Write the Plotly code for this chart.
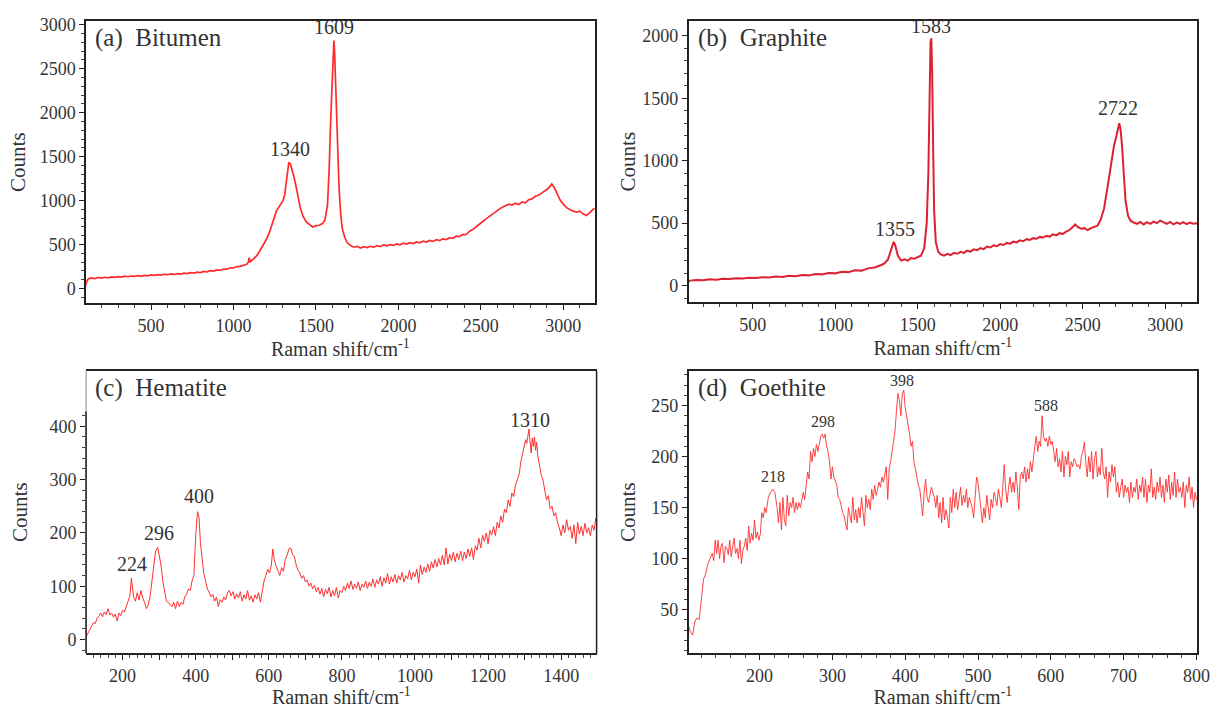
import plotly.graph_objects as go

# ---------------- data ----------------
bitumen_x = [100, 110, 120, 140, 160, 180, 200, 220, 240, 260, 280, 300, 320, 340, 360, 380, 400, 420, 440, 460,
             480, 500, 520, 540, 560, 580, 600, 620, 640, 660, 680, 700, 720, 740, 760, 780, 800, 820, 840, 860,
             880, 900, 920, 940, 960, 980, 1000, 1020, 1040, 1060, 1080, 1090, 1095, 1100, 1120, 1140, 1160, 1180,
             1200, 1220, 1240, 1260, 1280, 1300, 1310, 1320, 1330, 1335, 1345, 1355, 1365, 1375, 1390, 1405, 1420,
             1440, 1460, 1480, 1500, 1520, 1540, 1555, 1570, 1580, 1590, 1600, 1606, 1609, 1613, 1620, 1630, 1640,
             1650, 1660, 1675, 1690, 1710, 1730, 1750, 1770, 1790, 1810, 1830, 1850, 1870, 1890, 1910, 1930, 1950,
             1970, 1990, 2010, 2030, 2050, 2070, 2090, 2110, 2130, 2150, 2170, 2190, 2210, 2230, 2250, 2270, 2290,
             2310, 2330, 2350, 2370, 2390, 2410, 2430, 2450, 2470, 2490, 2510, 2530, 2550, 2570, 2590, 2610, 2630,
             2650, 2670, 2690, 2710, 2730, 2750, 2770, 2790, 2810, 2830, 2850, 2870, 2890, 2910, 2930, 2945, 2960,
             2980, 3000, 3020, 3040, 3060, 3080, 3100, 3120, 3140, 3160, 3180, 3200]
bitumen_y = [20, 80, 110, 120, 112, 125, 118, 128, 122, 132, 126, 136, 130, 140, 134, 142, 138, 147, 142, 150,
             145, 155, 149, 158, 153, 162, 157, 166, 160, 170, 165, 175, 170, 180, 176, 187, 182, 194, 190, 203,
             198, 212, 208, 222, 220, 236, 234, 250, 252, 268, 275, 300, 350, 300, 330, 370, 430, 490,
             560, 650, 760, 880, 940, 1000, 1060, 1200, 1390, 1430, 1420, 1330, 1280, 1200, 1050, 920, 830,
             760, 730, 700, 715, 720, 740, 780, 950, 1350, 1950, 2550, 2780, 2820, 2700, 2300, 1700, 1150,
             850, 680, 580, 520, 490, 470, 480, 460, 475, 465, 480, 470, 488, 478, 495, 485, 500,
             490, 508, 498, 515, 505, 522, 512, 530, 520, 538, 528, 546, 536, 555, 545, 565, 556,
             578, 570, 595, 590, 615, 612, 650, 670, 700, 725, 760, 790, 820, 850, 880, 900, 925,
             945, 960, 950, 970, 955, 985, 975, 1010, 1020, 1050, 1060, 1090, 1110, 1140, 1190, 1150, 1090,
             1010, 960, 920, 900, 880, 870, 880, 850, 830, 860, 900, 920]

graphite_x = [100, 120, 160, 200, 240, 280, 320, 360, 400, 440, 480, 520, 560, 600, 640, 680, 720, 760, 800, 840,
              880, 920, 960, 1000, 1040, 1080, 1120, 1160, 1200, 1240, 1280, 1300, 1320, 1340, 1355, 1365, 1380,
              1400, 1420, 1440, 1460, 1480, 1500, 1520, 1540, 1555, 1565, 1572, 1578, 1583, 1588, 1594, 1600, 1610,
              1625, 1640, 1660, 1680, 1700, 1720, 1740, 1760, 1780, 1800, 1820, 1840, 1860, 1880, 1900, 1920, 1940,
              1960, 1980, 2000, 2020, 2040, 2060, 2080, 2100, 2120, 2140, 2160, 2180, 2200, 2220, 2240, 2260, 2280,
              2300, 2320, 2340, 2360, 2380, 2400, 2420, 2440, 2455, 2470, 2490, 2510, 2530, 2550, 2570, 2590, 2610,
              2630, 2650, 2670, 2690, 2705, 2715, 2722, 2730, 2740, 2750, 2760, 2775, 2790, 2810, 2830, 2850, 2870,
              2890, 2910, 2930, 2950, 2970, 2990, 3010, 3030, 3050, 3070, 3090, 3110, 3130, 3150, 3170, 3190, 3200]
graphite_y = [20, 40, 45, 42, 50, 47, 55, 52, 58, 56, 63, 60, 67, 64, 72, 69, 78, 75, 85, 82,
              92, 90, 100, 98, 110, 108, 122, 120, 138, 145, 165, 180, 210, 290, 350, 320, 240,
              200, 210, 200, 220, 215, 230, 240, 300, 500, 900, 1500, 1950, 1980, 1700, 1100, 600, 350,
              270, 250, 240, 255, 245, 262, 255, 270, 262, 280, 272, 290, 283, 300, 292, 312, 305,
              322, 315, 332, 325, 342, 336, 352, 346, 362, 355, 372, 366, 380, 375, 390, 385, 398,
              392, 410, 402, 420, 414, 432, 445, 470, 490, 470, 455, 460, 445, 460, 470, 480, 530,
              620, 780, 950, 1120, 1200, 1280, 1300, 1250, 1100, 880, 680, 560, 520, 505, 495, 510, 490,
              508, 495, 512, 500, 520, 505, 495, 510, 490, 505, 495, 508, 492, 505, 495, 500, 498]

hematite_x = [100, 105, 110, 115, 120, 125, 130, 135, 140, 145, 150, 155, 160, 165, 170, 175, 180, 185, 190, 195,
              200, 205, 210, 215, 220, 224, 227, 230, 235, 240, 245, 250, 255, 260, 265, 270, 275, 280, 285, 290,
              296, 300, 305, 310, 315, 320, 325, 330, 335, 340, 345, 350, 355, 360, 365, 370, 375, 380, 385, 390,
              395, 400, 405, 409, 413, 418, 422, 427, 432, 437, 442, 447, 452, 457, 462, 467, 472, 477, 482, 487,
              492, 497, 502, 507, 512, 517, 522, 527, 532, 537, 542, 547, 552, 557, 562, 567, 572, 577, 582, 587,
              592, 597, 602, 607, 611, 615, 620, 625, 630, 635, 640, 645, 650, 655, 660, 665, 670, 675, 680, 685,
              690, 695, 700, 705, 710, 715, 720, 725, 730, 735, 740, 745, 750, 755, 760, 765, 770, 775, 780, 785,
              790, 795, 800, 805, 810, 815, 820, 825, 830, 835, 840, 845, 850, 855, 860, 865, 870, 875, 880, 885,
              890, 895, 900, 905, 910, 915, 920, 925, 930, 935, 940, 945, 950, 955, 960, 965, 970, 975, 980, 985,
              990, 995, 1000, 1005, 1010, 1015, 1020, 1025, 1030, 1035, 1040, 1045, 1050, 1055, 1060, 1065, 1070,
              1075, 1080, 1085, 1090, 1095, 1100, 1105, 1110, 1115, 1120, 1125, 1130, 1135, 1140, 1145, 1150, 1155,
              1160, 1165, 1170, 1175, 1180, 1185, 1190, 1195, 1200, 1205, 1210, 1215, 1220, 1225, 1230, 1235, 1240,
              1245, 1250, 1255, 1260, 1265, 1270, 1275, 1280, 1285, 1290, 1295, 1300, 1303, 1306, 1309, 1312, 1315,
              1318, 1321, 1324, 1327, 1330, 1333, 1336, 1340, 1345, 1350, 1355, 1360, 1365, 1370, 1375, 1380, 1385,
              1390, 1395, 1400, 1405, 1410, 1415, 1420, 1425, 1430, 1435, 1440, 1445, 1450, 1455, 1460, 1465, 1470,
              1475, 1480, 1485, 1490, 1495, 1500]
hematite_y = [5, 12, 20, 26, 32, 30, 40, 44, 50, 43, 52, 47, 58, 46, 50, 42, 48, 35, 50, 45,
              55, 52, 62, 68, 82, 115, 100, 80, 72, 88, 74, 92, 78, 70, 58, 65, 80, 105, 130, 165,
              173, 160, 140, 110, 90, 72, 70, 66, 62, 70, 58, 72, 62, 70, 66, 80, 85, 95, 92, 110,
              120, 195, 240, 230, 180, 150, 125, 110, 95, 88, 80, 85, 72, 80, 62, 75, 70, 80, 74, 88,
              92, 82, 90, 76, 86, 78, 90, 72, 84, 76, 92, 74, 82, 70, 84, 76, 88, 70, 95, 110,
              120, 132, 125, 140, 170, 150, 138, 128, 120, 135, 128, 150, 158, 170, 172, 160, 155, 140, 130, 125,
              115, 120, 108, 112, 100, 106, 95, 102, 90, 98, 85, 96, 80, 94, 86, 98, 80, 92, 82, 98,
              78, 92, 88, 100, 92, 106, 96, 110, 94, 104, 96, 108, 92, 104, 98, 110, 96, 108, 100, 114,
              98, 112, 104, 118, 100, 116, 106, 124, 104, 118, 108, 122, 106, 120, 112, 126, 108, 120, 114, 130,
              112, 126, 118, 132, 106, 140, 122, 136, 126, 142, 128, 146, 134, 150, 136, 152, 140,
              158, 140, 172, 142, 160, 148, 164, 146, 162, 150, 166, 148, 164, 152, 170, 156, 172,
              150, 176, 168, 190, 172, 196, 184, 200, 180, 205, 196, 212, 195, 220, 210, 232, 220,
              245, 238, 262, 250, 275, 268, 290, 300, 310, 335, 350, 360, 375, 368, 385, 395, 372,
              350, 378, 362, 380, 355, 370, 345, 330, 310, 300, 280, 262, 270, 245, 250, 232, 238,
              220, 210, 195, 215, 200, 225, 205, 212, 190, 215, 180, 220, 198, 212, 195, 218, 200,
              210, 195, 215, 205, 228, 200]

goethite_x = [102, 105, 108, 111, 114, 117, 120, 123, 126, 129, 132, 135, 137, 139, 141, 143, 145, 147, 149, 151,
              153, 155, 157, 159, 161, 163, 165, 167, 169, 171, 173, 175, 177, 179, 181, 183, 185, 187, 189, 191,
              193, 195, 197, 199, 201, 203, 205, 207, 209, 212, 215, 218, 221, 224, 226, 228, 230, 232, 234, 236,
              238, 240, 242, 244, 246, 248, 250, 252, 254, 256, 258, 260, 262, 264, 266, 268, 270, 272, 274, 276,
              278, 280, 282, 284, 286, 288, 290, 292, 294, 296, 298, 300, 302, 304, 306, 308, 310, 312, 314, 316,
              318, 320, 322, 324, 326, 328, 330, 332, 334, 336, 338, 340, 342, 344, 346, 348, 350, 352, 354, 356,
              358, 360, 362, 364, 366, 368, 370, 372, 374, 376, 378, 380, 382, 384, 386, 388, 390, 392, 394, 396,
              398, 400, 402, 404, 406, 408, 410, 412, 414, 416, 418, 420, 422, 424, 426, 428, 430, 432, 434, 436,
              438, 440, 442, 444, 446, 448, 450, 452, 454, 456, 458, 460, 462, 464, 466, 468, 470, 472, 474, 476,
              478, 480, 482, 484, 486, 488, 490, 492, 494, 496, 498, 500, 502, 504, 506, 508, 510, 512, 514, 516,
              518, 520, 522, 524, 526, 528, 530, 532, 534, 536, 538, 540, 542, 544, 546, 548, 550, 552, 554, 556,
              558, 560, 562, 564, 566, 568, 570, 572, 574, 576, 578, 580, 582, 584, 586, 588, 590, 592, 594, 596,
              598, 600, 602, 604, 606, 608, 610, 612, 614, 616, 618, 620, 622, 624, 626, 628, 630, 632, 634, 636,
              638, 640, 642, 644, 646, 648, 650, 652, 654, 656, 658, 660, 662, 664, 666, 668, 670, 672, 674, 676,
              678, 680, 682, 684, 686, 688, 690, 692, 694, 696, 698, 700, 702, 704, 706, 708, 710, 712, 714, 716,
              718, 720, 722, 724, 726, 728, 730, 732, 734, 736, 738, 740, 742, 744, 746, 748, 750, 752, 754, 756,
              758, 760, 762, 764, 766, 768, 770, 772, 774, 776, 778, 780, 782, 784, 786, 788, 790, 792, 794, 796,
              798, 800, 802, 805]
goethite_y = [35, 28, 25, 38, 42, 40, 60, 80, 85, 95, 100, 105, 98, 118, 105, 118, 100, 112, 115, 96,
              112, 110, 104, 118, 102, 112, 120, 105, 110, 100, 118, 95, 108, 112, 120, 108, 132, 115, 125, 118,
              138, 120, 126, 118, 124, 145, 140, 150, 145, 160, 165, 168, 165, 150, 135, 155, 128, 160, 138, 132,
              162, 142, 155, 150, 160, 145, 155, 148, 155, 150, 160, 165, 158, 175, 185, 178, 205, 195, 208, 200,
              212, 205, 215, 220, 222, 218, 222, 210, 205, 195, 178, 190, 180, 175, 172, 160, 158, 152, 145, 142,
              135, 128, 150, 140, 135, 160, 138, 148, 135, 150, 140, 160, 145, 132, 162, 150, 158, 148, 168, 158,
              172, 162, 168, 175, 170, 180, 175, 185, 190, 158, 188, 195, 205, 215, 225, 245, 262, 255, 240, 262,
              265, 248, 240, 230, 222, 210, 215, 195, 185, 180, 172, 168, 155, 142, 165, 178, 160, 155, 162, 170,
              165, 160, 150, 162, 140, 155, 135, 160, 138, 148, 140, 130, 160, 145, 168, 150, 165, 148, 158, 170,
              152, 162, 155, 168, 150, 160, 155, 150, 140, 160, 180, 175, 160, 150, 135, 150, 140, 162, 148, 138,
              158, 150, 165, 160, 152, 168, 160, 150, 170, 192, 168, 155, 170, 180, 165, 175, 165, 185, 170, 148,
              180, 185, 178, 190, 175, 188, 178, 195, 185, 200, 210, 220, 205, 215, 210, 240, 220, 215, 218, 210,
              220, 212, 215, 205, 195, 208, 190, 198, 185, 205, 180, 200, 192, 205, 180, 195, 190, 198, 195, 190,
              192, 188, 200, 205, 214, 195, 180, 200, 185, 205, 178, 198, 205, 180, 190, 182, 208, 185, 178, 190,
              160, 185, 175, 192, 180, 190, 165, 175, 160, 170, 178, 160, 172, 165, 170, 155, 175, 160, 170, 165,
              178, 158, 172, 165, 180, 160, 178, 155, 172, 165, 188, 160, 170, 158, 175, 165, 180, 160, 172, 155,
              178, 165, 182, 158, 175, 162, 185, 160, 178, 165, 170, 160, 175, 150, 172, 165, 180, 158, 170, 150,
              165, 158, 160, 155]

# peak labels: (text, x, y)
bitumen_peaks = [("1340", 1340, 1440), ("1609", 1610, 2830)]
graphite_peaks = [("1355", 1362, 350), ("1583", 1581, 1975), ("2722", 2714, 1320)]
hematite_peaks = [("224", 227, 118), ("296", 300, 176), ("400", 408, 245), ("1310", 1316, 388)]
goethite_peaks = [("218", 219, 170), ("298", 287, 224), ("398", 396, 264), ("588", 593, 240)]

panel_titles = ["(a)\u00a0 Bitumen", "(b)\u00a0 Graphite", "(c)\u00a0 Hematite", "(d)\u00a0 Goethite"]

# ---------------- figure ----------------
W, H = 1225, 708
FONT = "Liberation Serif"
TXT = "#333333"

def px_x(a, b):
    return [a / W, b / W]

def px_y(top, bottom):
    return [1 - bottom / H, 1 - top / H]

fig = go.Figure()
fig.add_trace(go.Scatter(x=bitumen_x, y=bitumen_y, mode="lines", line=dict(color="#ff2b2b", width=1.7),
                         xaxis="x", yaxis="y", showlegend=False))
fig.add_trace(go.Scatter(x=graphite_x, y=graphite_y, mode="lines", line=dict(color="#dc2230", width=2.0),
                         xaxis="x2", yaxis="y2", showlegend=False))
fig.add_trace(go.Scatter(x=hematite_x, y=hematite_y, mode="lines", line=dict(color="#ff3030", width=1.0),
                         xaxis="x3", yaxis="y3", showlegend=False))
fig.add_trace(go.Scatter(x=goethite_x, y=goethite_y, mode="lines", line=dict(color="#ff3030", width=0.9),
                         xaxis="x4", yaxis="y4", showlegend=False))

def xax(domain, rng, major, minor, anchor, labels=None):
    d = dict(domain=domain, range=rng, anchor=anchor,
             showline=True, linecolor="#222", linewidth=1.5, mirror=True,
             ticks="outside", ticklen=5, tickcolor="#222", tickwidth=1,
             tickmode="array", tickvals=major,
             minor=dict(tickmode="array", tickvals=minor, ticks="outside", ticklen=3, tickcolor="#444"),
             showgrid=False, zeroline=False,
             tickfont=dict(family=FONT, size=18, color=TXT),
             title=dict(text="Raman shift/cm<sup>-1</sup>", font=dict(family=FONT, size=20, color=TXT), standoff=0))
    if labels is not None:
        d["ticktext"] = labels
    return d

def yax(domain, rng, major, minor, anchor, standoff, showline=True):
    return dict(domain=domain, range=rng, anchor=anchor,
                showline=showline, linecolor="#222", linewidth=1.5, mirror=True,
                ticks="outside", ticklen=5, tickcolor="#222", tickwidth=1,
                tickmode="array", tickvals=major,
                minor=dict(tickmode="array", tickvals=minor, ticks="outside", ticklen=3, tickcolor="#444"),
                showgrid=False, zeroline=False,
                tickfont=dict(family=FONT, size=18, color=TXT),
                title=dict(text="Counts", font=dict(family=FONT, size=21, color=TXT), standoff=standoff))

xa_dom = px_x(87, 601)
xb_dom = px_x(696, 1210)
xc_dom = px_x(87, 603)

a_major_x = [500, 1000, 1500, 2000, 2500, 3000]
a_minor_x = [v for v in range(200, 3200, 100) if v % 500]
a_major_y = [0, 500, 1000, 1500, 2000, 2500, 3000]
a_minor_y = [v for v in range(-100, 3100, 100) if v % 500]
b_major_y = [0, 500, 1000, 1500, 2000]
b_minor_y = [v for v in range(-100, 2100, 100) if v % 500]
c_major_x = list(range(200, 1500, 100))
c_labels_x = [str(v) if v % 200 == 0 else " " for v in c_major_x]
c_minor_x = [v for v in range(120, 1500, 20) if v % 100]
c_major_y = [0, 100, 200, 300, 400]
c_minor_y = [v for v in range(-20, 430, 20) if v % 100]
d_major_x = [200, 300, 400, 500, 600, 700, 800]
d_minor_x = [v for v in range(120, 802, 20) if v % 100]
d_major_y = [50, 100, 150, 200, 250]
d_minor_y = [v for v in range(10, 284, 10) if v % 50]

fig.update_layout(
    width=W, height=H, margin=dict(l=0, r=0, t=0, b=0),
    paper_bgcolor="white", plot_bgcolor="white",
    xaxis=xax(xa_dom, [106, 3190], a_major_x, a_minor_x, "y"),
    yaxis=yax(px_y(15, 300), [-170, 3045], a_major_y, a_minor_y, "x", 8),
    xaxis2=xax(xb_dom, [112, 3194], a_major_x, a_minor_x, "y2"),
    yaxis2=yax(px_y(15, 299), [-135, 2120], b_major_y, b_minor_y, "x2", 1),
    xaxis3=xax(xc_dom, [100, 1497], c_major_x, c_minor_x, "y3", c_labels_x),
    yaxis3=yax(px_y(368, 653), [-26, 504], c_major_y, c_minor_y, "x3", 16, showline=False),
    xaxis4=xax(xb_dom, [102.5, 801], d_major_x, d_minor_x, "y4"),
    yaxis4=yax(px_y(368, 653), [7, 284], d_major_y, d_minor_y, "x4", 10),
)

# frame pieces for panel (c): thin full left border, bold spine only up to ~430
fig.add_shape(type="line", xref="x3 domain", yref="y3 domain", x0=0, x1=0, y0=0, y1=1,
              line=dict(color="#888", width=1))
fig.add_shape(type="line", xref="x3 domain", yref="y3 domain", x0=1, x1=1, y0=0, y1=1,
              line=dict(color="#222", width=1.5))
fig.add_shape(type="line", xref="x3 domain", yref="y3", x0=0, x1=0, y0=-26, y1=428,
              line=dict(color="#222", width=1.5))

annotations = []
for (xr, yr), title in zip([("x", "y"), ("x2", "y2"), ("x3", "y3"), ("x4", "y4")], panel_titles):
    annotations.append(dict(text=title, xref=xr + " domain", yref=yr + " domain", x=0.014, y=0.995,
                            xanchor="left", yanchor="top", showarrow=False,
                            font=dict(family=FONT, size=25, color=TXT)))
for peaks, xr, yr, sz in [(bitumen_peaks, "x", "y", 20), (graphite_peaks, "x2", "y2", 20),
                          (hematite_peaks, "x3", "y3", 20), (goethite_peaks, "x4", "y4", 16)]:
    for t, px, py in peaks:
        annotations.append(dict(text=t, x=px, y=py, xref=xr, yref=yr, xanchor="center", yanchor="bottom",
                                showarrow=False, font=dict(family=FONT, size=sz, color=TXT)))
fig.update_layout(annotations=annotations)

fig.write_html("out.html", config={"displayModeBar": False},
               post_script="document.body.style.margin='0px';")
